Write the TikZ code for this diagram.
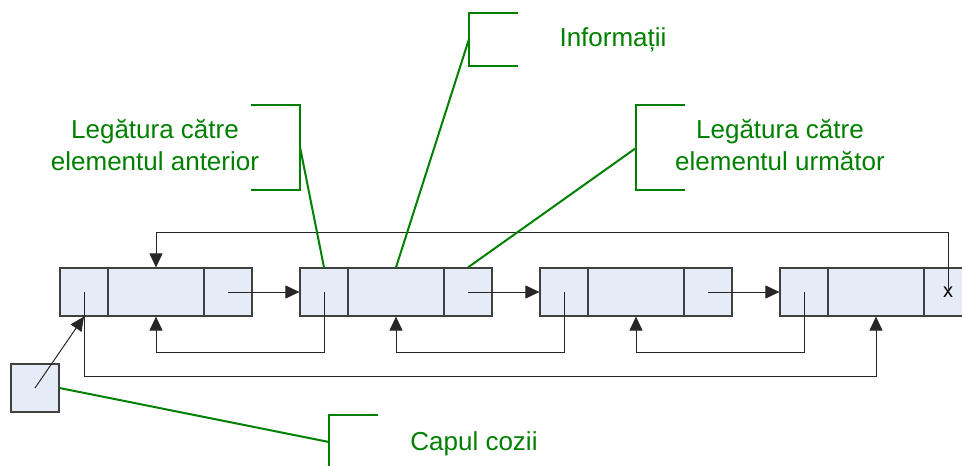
\documentclass[tikz,border=0pt]{standalone}
\usepackage{fontspec}
\setmainfont{Liberation Sans}
\usetikzlibrary{arrows.meta}
\definecolor{cellfill}{HTML}{E6ECF7}
\definecolor{cellline}{HTML}{404040}
\definecolor{notegreen}{HTML}{008000}

\begin{document}
\begin{tikzpicture}[
  x=1pt, y=-1pt,
  cell/.style={draw=cellline, fill=cellfill, line width=1.2pt, minimum width=48pt, minimum height=48pt, inner sep=0pt},
  infocell/.style={cell, minimum width=96pt},
  ptr/.style={draw=black!85, line width=1pt, -{Triangle[length=14pt,width=13pt]}},
  note/.style={draw=notegreen, line width=2pt},
  notetext/.style={text=notegreen, font=\fontsize{26}{32}\selectfont, align=center, inner sep=0pt}
]
\clip (0,0) rectangle (962,466);

% list elements: prev | info | next
\node[cell] (prev1) at (84,292) {};
\node[infocell] (info1) at (156,292) {};
\node[cell] (next1) at (228,292) {};

\node[cell] (prev2) at (324,292) {};
\node[infocell] (info2) at (396,292) {};
\node[cell] (next2) at (468,292) {};

\node[cell] (prev3) at (564,292) {};
\node[infocell] (info3) at (636,292) {};
\node[cell] (next3) at (708,292) {};

\node[cell] (prev4) at (804,292) {};
\node[infocell] (info4) at (876,292) {};
\node[cell, font=\fontsize{20}{24}\selectfont] (next4) at (948,292) {x};

\node[cell] (head) at (35,388) {};

% next links
\draw[ptr] (next1.center) -- (prev2.west);
\draw[ptr] (next2.center) -- (prev3.west);
\draw[ptr] (next3.center) -- (prev4.west);

% prev links
\draw[ptr] (prev2.center) -- ++(0,60) -| (info1.south);
\draw[ptr] (prev3.center) -- ++(0,60) -| (info2.south);
\draw[ptr] (prev4.center) -- ++(0,60) -| (info3.south);

% wrap-around links
\draw[ptr] (next4.center) -- ++(0,-60) -| (info1.north);
\draw[ptr] (prev1.center) -- ++(0,84) -| (info4.south);
\draw[ptr] (head.center) -- (prev1.south);

% callouts
\node[notetext] (prevnote) at (155,145) {Legătura către\\elementul anterior};
\node[notetext, anchor=base] (infonote) at (613,46) {Informații};
\node[notetext] (nextnote) at (780,145) {Legătura către\\elementul următor};
\node[notetext, anchor=base] (headnote) at (474,450) {Capul cozii};

\draw[note] (251,105) -- (300,105) -- (300,190) -- (251,190);
\draw[note] (518,13) -- (469,13) -- (469,66) -- (518,66);
\draw[note] (685,105) -- (636,105) -- (636,190) -- (685,190);
\draw[note] (378,415) -- (329,415) -- (329,500);

\coordinate (prevtip) at (300,147);
\coordinate (infotip) at (469,39);
\coordinate (nexttip) at (636,148);
\coordinate (headtip) at (329,442);

\draw[note] (prevtip) -- (prev2.north);
\draw[note] (infotip) -- (info2.north);
\draw[note] (nexttip) -- (next2.north);
\draw[note] (headtip) -- (head.east);
\end{tikzpicture}
\end{document}
